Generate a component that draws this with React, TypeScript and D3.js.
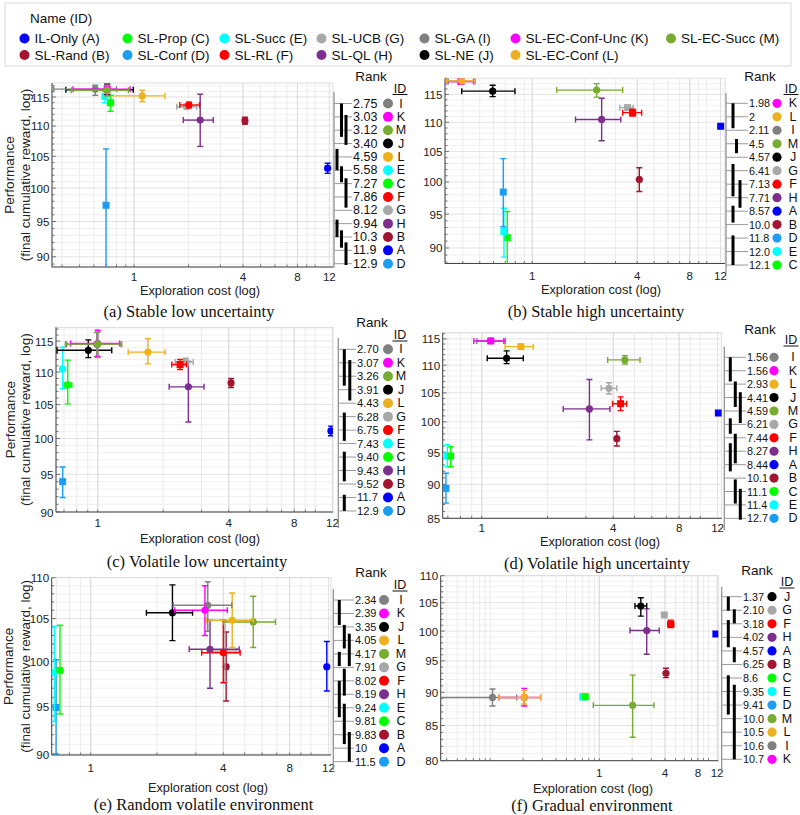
import React from 'react';
import * as d3 from 'd3';

// ---------- methods ----------
const methodIds = ['A', 'B', 'C', 'D', 'E', 'F', 'G', 'H', 'I', 'J', 'K', 'L', 'M'];
const methodNames = ['IL-Only', 'SL-Rand', 'SL-Prop', 'SL-Conf', 'SL-Succ', 'SL-RL', 'SL-UCB', 'SL-QL', 'SL-GA', 'SL-NE', 'SL-EC-Conf-Unc', 'SL-EC-Conf', 'SL-EC-Succ'];
const methodColors = ['#0000ff', '#a2142f', '#00ff00', '#1b9df2', '#00ffff', '#ff0000', '#a8a8a8', '#7e2f8e', '#808080', '#000000', '#ff00ff', '#edb120', '#77ac30'];

// point rows: [id, cost, costLo, costHi, perf, perfLo, perfHi]
type Pt = [string, number, number, number, number, number, number];

const pointsA: Pt[] = [
  ['D', 0.70, 0.69, 0.71, 97.4, 86, 106.2],
  ['A', 11.74, 11.5, 12.0, 103.1, 102.3, 103.9],
  ['B', 4.1, 4.0, 4.2, 110.9, 110.3, 111.5],
  ['H', 2.32, 1.87, 2.74, 111.0, 106.6, 115.5],
  ['G', 1.95, 1.72, 2.22, 113.3, 112.9, 113.8],
  ['F', 2.01, 1.79, 2.3, 113.6, 113.1, 114.1],
  ['L', 1.11, 0.74, 1.48, 115.2, 114.2, 116.2],
  ['C', 0.74, 0.72, 0.77, 114.0, 112.5, 115.3],
  ['E', 0.69, 0.67, 0.71, 115.1, 114.0, 116.0],
  ['J', 0.71, 0.42, 0.99, 116.3, 115.4, 117.2],
  ['I', 0.61, 0.36, 0.80, 116.4, 115.3, 117.1],
  ['K', 0.71, 0.46, 0.95, 116.4, 115.3, 117.4],
  ['M', 0.71, 0.45, 0.93, 116.2, 115.2, 117.1],
];
const pointsB: Pt[] = [
  ['C', 0.719, 0.71, 0.73, 91.5, 87, 95.4],
  ['E', 0.688, 0.675, 0.70, 92.4, 88.7, 95.9],
  ['D', 0.682, 0.67, 0.695, 98.4, 93.1, 103.8],
  ['B', 4.11, 4.03, 4.2, 100.4, 98.5, 102.3],
  ['A', 12.03, 11.85, 12.2, 109.3, 109.1, 109.5],
  ['H', 2.5, 1.77, 3.22, 110.5, 106.8, 114.3],
  ['G', 3.52, 3.18, 3.79, 112.6, 112.2, 113.0],
  ['F', 3.76, 3.3, 4.24, 111.7, 111.1, 112.3],
  ['M', 2.34, 1.38, 3.3, 115.8, 114.5, 117.0],
  ['J', 0.593, 0.394, 0.796, 115.6, 114.6, 116.7],
  ['I', 0.39, 0.33, 0.46, 117.4, 117.2, 117.6],
  ['K', 0.39, 0.323, 0.47, 117.4, 117.2, 117.6],
  ['L', 0.394, 0.323, 0.47, 117.5, 117.3, 117.7],
];
const pointsC: Pt[] = [
  ['D', 0.69, 0.675, 0.705, 94.0, 91.9, 96.0],
  ['A', 11.8, 11.6, 12.0, 101.1, 100.4, 101.8],
  ['B', 4.1, 4.03, 4.17, 108.3, 107.6, 109.0],
  ['H', 2.61, 2.13, 3.08, 107.7, 102.4, 111.7],
  ['C', 0.728, 0.70, 0.76, 108.0, 105.1, 111.9],
  ['E', 0.69, 0.675, 0.705, 110.5, 107.4, 114.0],
  ['G', 2.54, 2.27, 2.75, 111.6, 111.0, 112.2],
  ['F', 2.39, 2.19, 2.56, 111.2, 110.4, 112.0],
  ['L', 1.70, 1.38, 2.04, 113.2, 111.3, 115.4],
  ['J', 0.905, 0.65, 1.16, 113.5, 112.3, 115.2],
  ['I', 0.99, 0.72, 1.28, 114.5, 112.5, 116.4],
  ['K', 1.0, 0.75, 1.26, 114.6, 112.5, 116.8],
  ['M', 1.0, 0.71, 1.29, 114.5, 112.3, 116.5],
];
const pointsD: Pt[] = [
  ['D', 0.686, 0.675, 0.70, 89.4, 87.2, 91.7],
  ['E', 0.696, 0.68, 0.71, 94.4, 92.7, 96.2],
  ['C', 0.721, 0.71, 0.735, 94.4, 92.7, 95.9],
  ['B', 4.15, 4.08, 4.22, 97.2, 96.0, 98.4],
  ['H', 3.11, 2.36, 3.86, 102.2, 97.0, 107.4],
  ['A', 12.1, 11.9, 12.3, 101.5, 101.1, 101.9],
  ['F', 4.32, 3.97, 4.6, 103.1, 101.9, 104.3],
  ['G', 3.82, 3.52, 4.15, 105.8, 104.8, 106.8],
  ['M', 4.52, 3.77, 5.3, 111.0, 110.2, 111.8],
  ['J', 1.30, 1.06, 1.55, 111.3, 110.3, 112.7],
  ['L', 1.51, 1.28, 1.72, 113.5, 113.2, 113.8],
  ['I', 1.10, 0.95, 1.26, 114.6, 114.3, 114.9],
  ['K', 1.10, 0.92, 1.28, 114.6, 114.3, 114.9],
];
const pointsE: Pt[] = [
  ['D', 0.696, 0.685, 0.71, 94.9, 90.0, 100.2],
  ['E', 0.684, 0.675, 0.695, 98.7, 93.4, 104.1],
  ['C', 0.725, 0.705, 0.745, 99.0, 94.2, 104.2],
  ['A', 11.8, 11.6, 12.0, 99.4, 96.7, 102.3],
  ['B', 4.12, 4.05, 4.2, 99.4, 95.6, 103.4],
  ['G', 4.07, 3.4, 4.6, 101.2, 97.7, 104.7],
  ['F', 4.0, 3.19, 4.77, 101.0, 97.6, 104.8],
  ['H', 3.48, 2.8, 4.72, 101.4, 97.0, 104.8],
  ['M', 5.47, 4.0, 6.9, 104.6, 101.6, 107.7],
  ['L', 4.39, 3.36, 5.48, 104.8, 101.6, 108.1],
  ['J', 2.35, 1.79, 2.9, 105.7, 102.4, 109.1],
  ['I', 3.40, 2.37, 4.37, 106.6, 103.5, 109.5],
  ['K', 3.30, 2.41, 4.17, 106.0, 103.0, 109.0],
];
const pointsF: Pt[] = [
  ['M', 2.02, 0.88, 3.17, 88.0, 83.3, 92.7],
  ['I', 0.105, 0.02, 0.175, 89.2, 87.9, 90.5],
  ['K', 0.205, 0.12, 0.29, 89.2, 87.9, 90.6],
  ['L', 0.205, 0.12, 0.29, 89.2, 88.2, 90.3],
  ['D', 0.72, 0.72, 0.72, 89.3, 89.3, 89.3],
  ['E', 0.705, 0.705, 0.705, 89.3, 89.3, 89.3],
  ['C', 0.744, 0.744, 0.744, 89.3, 89.3, 89.3],
  ['B', 4.08, 4.0, 4.16, 93.0, 92.3, 93.8],
  ['H', 2.72, 1.91, 3.54, 100.1, 96.1, 103.9],
  ['A', 11.7, 11.7, 11.7, 99.5, 99.5, 99.5],
  ['F', 4.51, 4.25, 4.8, 101.2, 100.6, 101.9],
  ['G', 3.94, 3.94, 3.94, 102.8, 102.8, 102.8],
  ['J', 2.4, 2.12, 2.72, 104.4, 102.6, 105.9],
];

const squaresA = ['C', 'D', 'E', 'K'];
const squaresB = ['K', 'D', 'E', 'C', 'A', 'F', 'G'];
const squaresC = ['D', 'F'];
const squaresD = ['K', 'L', 'D', 'E', 'C', 'A', 'F'];
const squaresE = ['D'];
const squaresF = ['G', 'A', 'E', 'C', 'F', 'D'];

// rank tables
const rankIdsA = ['I', 'K', 'M', 'J', 'L', 'E', 'C', 'F', 'G', 'H', 'B', 'A', 'D'];
const rankValsA = ['2.75', '3.03', '3.12', '3.40', '4.59', '5.58', '7.27', '7.86', '8.12', '9.94', '10.3', '11.9', '12.9'];
const rankIdsB = ['K', 'L', 'I', 'M', 'J', 'G', 'F', 'H', 'A', 'B', 'D', 'E', 'C'];
const rankValsB = ['1.98', '2', '2.11', '4.5', '4.57', '6.41', '7.13', '7.71', '8.57', '10.0', '11.8', '12.0', '12.1'];
const rankIdsC = ['I', 'K', 'M', 'J', 'L', 'G', 'F', 'E', 'C', 'H', 'B', 'A', 'D'];
const rankValsC = ['2.70', '3.07', '3.26', '3.91', '4.43', '6.28', '6.75', '7.43', '9.40', '9.43', '9.52', '11.7', '12.9'];
const rankIdsD = ['I', 'K', 'L', 'J', 'M', 'G', 'F', 'H', 'A', 'B', 'C', 'E', 'D'];
const rankValsD = ['1.56', '1.56', '2.93', '4.41', '4.59', '6.21', '7.44', '8.27', '8.44', '10.1', '11.1', '11.4', '12.7'];
const rankIdsE = ['I', 'K', 'J', 'L', 'M', 'G', 'F', 'H', 'E', 'C', 'B', 'A', 'D'];
const rankValsE = ['2.34', '2.39', '3.35', '4.05', '4.17', '7.91', '8.02', '8.19', '9.24', '9.81', '9.83', '10', '11.5'];
const rankIdsF = ['J', 'G', 'F', 'H', 'A', 'B', 'C', 'E', 'D', 'M', 'L', 'I', 'K'];
const rankValsF = ['1.37', '2.10', '3.18', '4.02', '4.57', '6.25', '8.6', '9.35', '9.41', '10.0', '10.5', '10.6', '10.7'];

// groups of not-significantly-different ranks: [fromRow, toRow, column]
const cliquesA = [[0, 2.5, 1], [0.86, 3.1, 2], [3.4, 5.0, 0], [4.7, 5.9, 1], [5.6, 7.8, 2], [8.7, 10, 0], [9.5, 10.8, 1], [10.4, 12.1, 2]];
const cliquesB = [[0, 1.85, 0], [2.65, 3.7, 1], [4.5, 6.9, 0], [5.7, 7.75, 2], [7.6, 8.85, 0], [9.8, 12, 0]];
const cliquesC = [[0, 2.7, 0], [0.8, 3.8, 1], [4.7, 6.8, 0], [7.6, 9.8, 0], [10.8, 12, 0]];
const cliquesD = [[0, 1.8, 0], [1.8, 3.7, 1], [2.6, 4.9, 2], [4.55, 5.7, 0], [5.7, 7.9, 1], [6.4, 8.5, 0], [9.1, 10.9, 1], [9.8, 12.1, 2]];
const cliquesE = [[0, 1.85, 0], [1.85, 3.6, 1], [2.5, 4.9, 2], [3.85, 4.9, 0], [5.1, 7.1, 1], [6, 8.7, 0], [7.7, 10.7, 1], [9.8, 12, 2]];
const cliquesF = [[0, 1.03, 0], [0.93, 1.97, 1], [1.72, 3.73, 0], [3.73, 4.84, 1], [5.8, 8.7, 0], [6.5, 12, 1]];

const xTickVals = [1, 4, 8, 12];

const SANS = "'Liberation Sans', Arial, Helvetica, sans-serif";
const SERIF = "'Liberation Serif', 'Times New Roman', serif";

const colorOf = (id: string) => methodColors[methodIds.indexOf(id)];

interface Cfg {
  key: string; caption: string;
  left: number; right: number; top: number; bottom: number;
  xDom: [number, number]; yDom: [number, number]; yTicks: number[];
  yLabel: boolean; yl1: number; yl2: number;
  xTickY: number; xLabelX: number; xLabelY: number; capX: number; capY: number;
  rAxis: number; rTop: number; rBottom: number; row0: number; rowStep: number;
  labelX: number; labelFont: number; dotX: number; dotR: number; idX: number;
  headX: number; headY: number; idHeadX: number; idHeadY: number; barBase: number; barStep: number;
}

const layouts: Cfg[] = [
  { key: 'a', caption: '(a) Stable low uncertainty', left: 52, right: 333, top: 83, bottom: 267, xDom: [0.352, 12.57], yDom: [88.6, 117.5], yTicks: [90, 95, 100, 105, 110, 115], yLabel: true, yl1: 9.5, yl2: 25,
    xTickY: 276, xLabelX: 200, xLabelY: 290, capX: 189, capY: 311, rAxis: 334, rTop: 92, rBottom: 268, row0: 103.5, rowStep: 13.35,
    labelX: 353, labelFont: 12.5, dotX: 388, dotR: 5, idX: 401, headX: 371, headY: 76, idHeadX: 400, idHeadY: 88.5, barBase: 3, barStep: 4.5 },
  { key: 'b', caption: '(b) Stable high uncertainty', left: 445, right: 725, top: 78.3, bottom: 263.5, xDom: [0.316, 12.74], yDom: [87.8, 118], yTicks: [90, 95, 100, 105, 110, 115], yLabel: false, yl1: 0, yl2: 0,
    xTickY: 275, xLabelX: 601, xLabelY: 289, capX: 596, capY: 311, rAxis: 726, rTop: 93, rBottom: 273, row0: 103.3, rowStep: 13.48,
    labelX: 749, labelFont: 10.8, dotX: 777, dotR: 4.6, idX: 793, headX: 760, headY: 76, idHeadX: 791, idHeadY: 88.5, barBase: 7, barStep: 3.5 },
  { key: 'c', caption: '(c) Volatile low uncertainty', left: 56, right: 333, top: 327.3, bottom: 512, xDom: [0.643, 12.06], yDom: [90, 117.3], yTicks: [90, 95, 100, 105, 110, 115], yLabel: true, yl1: 10, yl2: 25,
    xTickY: 522, xLabelX: 200, xLabelY: 538, capX: 197, capY: 561, rAxis: 338.3, rTop: 338, rBottom: 528, row0: 349.3, rowStep: 13.47,
    labelX: 357, labelFont: 11.2, dotX: 388, dotR: 5, idX: 401, headX: 372, headY: 322, idHeadX: 400, idHeadY: 335, barBase: 6, barStep: 5.5 },
  { key: 'd', caption: '(d) Volatile high uncertainty', left: 442.7, right: 721.7, top: 332.7, bottom: 518.3, xDom: [0.663, 12.53], yDom: [85, 116.2], yTicks: [85, 90, 95, 100, 105, 110, 115], yLabel: false, yl1: 0, yl2: 0,
    xTickY: 527, xLabelX: 600, xLabelY: 541, capX: 597, capY: 563, rAxis: 724.3, rTop: 346.7, rBottom: 530, row0: 357.3, rowStep: 13.42,
    labelX: 747, labelFont: 10.8, dotX: 774, dotR: 4.6, idX: 793, headX: 760, headY: 329, idHeadX: 791, idHeadY: 340, barBase: 6, barStep: 5 },
  { key: 'e', caption: '(e) Random volatile environment', left: 51.7, right: 331, top: 577.7, bottom: 755, xDom: [0.665, 12.33], yDom: [89.9, 110], yTicks: [90, 95, 100, 105, 110], yLabel: true, yl1: 8.5, yl2: 25,
    xTickY: 767, xLabelX: 208, xLabelY: 787, capX: 203.5, capY: 804, rAxis: 333.3, rTop: 589, rBottom: 770, row0: 600, rowStep: 13.47,
    labelX: 355, labelFont: 11, dotX: 384, dotR: 5, idX: 401, headX: 371, headY: 572, idHeadX: 400, idHeadY: 585, barBase: 6, barStep: 5 },
  { key: 'f', caption: '(f) Gradual environment', left: 440.7, right: 718.3, top: 575.7, bottom: 760.7, xDom: [0.0352, 12.31], yDom: [80, 110], yTicks: [80, 85, 90, 95, 100, 105, 110], yLabel: false, yl1: 0, yl2: 0,
    xTickY: 772, xLabelX: 593, xLabelY: 788, capX: 592, capY: 805, rAxis: 721.7, rTop: 586.7, rBottom: 773, row0: 596.7, rowStep: 13.55,
    labelX: 743, labelFont: 10.8, dotX: 772, dotR: 4.6, idX: 787, headX: 757, headY: 570, idHeadX: 787, idHeadY: 582, barBase: 6.6, barStep: 6 },
];

const panelPoints = [pointsA, pointsB, pointsC, pointsD, pointsE, pointsF];
const panelSquares = [squaresA, squaresB, squaresC, squaresD, squaresE, squaresF];
const panelRankIds = [rankIdsA, rankIdsB, rankIdsC, rankIdsD, rankIdsE, rankIdsF];
const panelRankVals = [rankValsA, rankValsB, rankValsC, rankValsD, rankValsE, rankValsF];
const panelCliques = [cliquesA, cliquesB, cliquesC, cliquesD, cliquesE, cliquesF];

function Panel({ cfg, pts, squares, rankIds, rankVals, cliques }: any) {
  const x = d3.scaleLog().domain(cfg.xDom).range([cfg.left, cfg.right]);
  const y = d3.scaleLog().domain(cfg.yDom).range([cfg.bottom, cfg.top]);
  const xGrid: number[] = [];
  for (let k = -3; k <= 2; k++) for (let m = 1; m <= 9; m++) {
    const v = m * Math.pow(10, k);
    if (v > cfg.xDom[0] && v < cfg.xDom[1]) xGrid.push(v);
  }
  const yGrid = d3.range(Math.ceil(cfg.yDom[0]), Math.floor(cfg.yDom[1]) + 1);
  const clipId = 'clip-' + cfg.key;
  const cap = 3;
  const midY = (cfg.top + cfg.bottom) / 2;
  const rowY = (i: number) => cfg.row0 + i * cfg.rowStep;
  return (
    <g>
      <defs>
        <clipPath id={clipId}>
          <rect x={cfg.left} y={cfg.top} width={cfg.right - cfg.left} height={cfg.bottom - cfg.top} />
        </clipPath>
      </defs>
      <rect x={cfg.left} y={cfg.top} width={cfg.right - cfg.left} height={cfg.bottom - cfg.top} fill="#fff" stroke="#d4d4d4" strokeWidth={0.8} />
      {xGrid.map((v, i) => (
        <line key={'xg' + i} x1={x(v)} x2={x(v)} y1={cfg.top} y2={cfg.bottom} stroke="#e6e6e6" strokeWidth={0.8} />
      ))}
      {yGrid.map((v, i) => (
        <line key={'yg' + i} x1={cfg.left} x2={cfg.right} y1={y(v)} y2={y(v)} stroke={v % 5 === 0 ? '#dcdcdc' : '#ececec'} strokeWidth={0.8} />
      ))}
      {xTickVals.map((v) => (
        <line key={'xm' + v} x1={x(v)} x2={x(v)} y1={cfg.top} y2={cfg.bottom} stroke="#d6d6d6" strokeWidth={0.8} />
      ))}
      {/* axes */}
      <line x1={cfg.left} x2={cfg.left} y1={cfg.top} y2={cfg.bottom} stroke="#444" strokeWidth={1} />
      <line x1={cfg.left} x2={cfg.right} y1={cfg.bottom} y2={cfg.bottom} stroke="#444" strokeWidth={1} />
      {yGrid.map((v, i) => (
        <line key={'yt' + i} x1={cfg.left} x2={cfg.left + (v % 5 === 0 ? 4 : 2.5)} y1={y(v)} y2={y(v)} stroke="#555" strokeWidth={0.8} />
      ))}
      {xGrid.map((v, i) => (
        <line key={'xt' + i} x1={x(v)} x2={x(v)} y1={cfg.bottom} y2={cfg.bottom - 2.5} stroke="#555" strokeWidth={0.8} />
      ))}
      {cfg.yTicks.map((v: number) => (
        <text key={'yl' + v} x={cfg.left - 2.5} y={y(v)} textAnchor="end" dominantBaseline="central" fontSize={11.6} fontFamily={SANS} fill="#222">{v}</text>
      ))}
      {xTickVals.map((v) => (
        <text key={'xl' + v} x={x(v)} y={cfg.xTickY} textAnchor="middle" dominantBaseline="central" fontSize={11.6} fontFamily={SANS} fill="#222">{v}</text>
      ))}
      <text x={cfg.xLabelX} y={cfg.xLabelY} textAnchor="middle" dominantBaseline="central" fontSize={12.8} fontFamily={SANS} fill="#222">Exploration cost (log)</text>
      {cfg.yLabel && (
        <g>
          <text transform={`translate(${cfg.yl1},${midY}) rotate(-90)`} textAnchor="middle" dominantBaseline="central" fontSize={13.5} fontFamily={SANS} fill="#222">Performance</text>
          <text transform={`translate(${cfg.yl2},${midY}) rotate(-90)`} textAnchor="middle" dominantBaseline="central" fontSize={13.5} fontFamily={SANS} fill="#222">(final cumulative reward, log)</text>
        </g>
      )}
      <text x={cfg.capX} y={cfg.capY} textAnchor="middle" dominantBaseline="central" fontSize={16.5} fontFamily={SERIF} fill="#111">{cfg.caption}</text>
      {/* data */}
      <g clipPath={`url(#${clipId})`}>
        {pts.map((p: Pt, i: number) => {
          const [id, cx, xlo, xhi, cy, ylo, yhi] = p;
          const c = colorOf(id);
          const px = x(cx), py = y(cy);
          const hasX = xhi - xlo > 1e-6;
          const hasY = yhi - ylo > 1e-6;
          return (
            <g key={'p' + i} stroke={c} strokeWidth={1.4} fill="none">
              {hasX && (
                <g>
                  <line x1={x(xlo)} x2={x(xhi)} y1={py} y2={py} />
                  <line x1={x(xlo)} x2={x(xlo)} y1={py - cap} y2={py + cap} />
                  <line x1={x(xhi)} x2={x(xhi)} y1={py - cap} y2={py + cap} />
                </g>
              )}
              {hasY && (
                <g>
                  <line x1={px} x2={px} y1={y(ylo)} y2={y(yhi)} />
                  <line x1={px - cap} x2={px + cap} y1={y(ylo)} y2={y(ylo)} />
                  <line x1={px - cap} x2={px + cap} y1={y(yhi)} y2={y(yhi)} />
                </g>
              )}
              {squares.includes(id)
                ? <rect x={px - 3.5} y={py - 3.5} width={7} height={7} fill={c} stroke="none" />
                : <circle cx={px} cy={py} r={3.6} fill={c} stroke="none" />}
            </g>
          );
        })}
      </g>
      {/* rank column */}
      <line x1={cfg.rAxis} x2={cfg.rAxis} y1={cfg.rTop} y2={cfg.rBottom} stroke="#8a8a8a" strokeWidth={1.2} />
      {rankIds.map((id: string, i: number) => (
        <g key={'r' + i}>
          <line x1={cfg.rAxis} x2={cfg.labelX - 1} y1={rowY(i)} y2={rowY(i)} stroke="#9a9a9a" strokeWidth={1} />
          <text x={cfg.labelX} y={rowY(i)} dominantBaseline="central" fontSize={cfg.labelFont} fontFamily={SANS} fill="#111">{rankVals[i]}</text>
          <circle cx={cfg.dotX} cy={rowY(i)} r={cfg.dotR} fill={colorOf(id)} />
          <text x={cfg.idX} y={rowY(i)} textAnchor="middle" dominantBaseline="central" fontSize={12.5} fontFamily={SANS} fill="#111">{id}</text>
        </g>
      ))}
      {cliques.map((q: number[], i: number) => (
        <line key={'q' + i} x1={cfg.rAxis + cfg.barBase + q[2] * cfg.barStep} x2={cfg.rAxis + cfg.barBase + q[2] * cfg.barStep}
          y1={rowY(q[0])} y2={rowY(q[1])} stroke="#000" strokeWidth={3} />
      ))}
      <text x={cfg.headX} y={cfg.headY} textAnchor="middle" dominantBaseline="central" fontSize={13.5} fontFamily={SANS} fill="#111">Rank</text>
      <text x={cfg.idHeadX} y={cfg.idHeadY} textAnchor="middle" dominantBaseline="central" fontSize={12.5} fontFamily={SANS} fill="#111">ID</text>
      <line x1={cfg.idHeadX - 7.5} x2={cfg.idHeadX + 7.5} y1={cfg.idHeadY + 6} y2={cfg.idHeadY + 6} stroke="#111" strokeWidth={1} />
    </g>
  );
}

const legendColX = [24.5, 127.5, 224.5, 321.5, 424.5, 515.5, 671];
const legendRowY = [38.5, 55];

export default function App() {
  return (
    <div style={{ position: 'absolute', left: 0, top: 0, width: 800, height: 815, background: '#fff' }}>
      <svg width={800} height={815} viewBox="0 0 800 815" style={{ display: 'block' }}>
        <rect x={0} y={0} width={800} height={815} fill="#fff" />
        {/* legend */}
        <rect x={5} y={3} width={786} height={63} fill="#fff" stroke="#d8d8d8" strokeWidth={1} />
        <text x={30} y={18} dominantBaseline="central" fontSize={13.5} fontFamily={SANS} fill="#111">Name (ID)</text>
        {methodIds.map((id, i) => {
          const col = Math.floor(i / 2), row = i % 2;
          const cx = legendColX[col], cy = legendRowY[row];
          return (
            <g key={'lg' + id}>
              <circle cx={cx} cy={cy} r={5} fill={methodColors[i]} />
              <text x={cx + 10} y={cy} dominantBaseline="central" fontSize={13.5} fontFamily={SANS} fill="#111">{`${methodNames[i]} (${id})`}</text>
            </g>
          );
        })}
        {layouts.map((cfg, i) => (
          <Panel key={cfg.key} cfg={cfg} pts={panelPoints[i]} squares={panelSquares[i]} rankIds={panelRankIds[i]}
            rankVals={panelRankVals[i]} cliques={panelCliques[i]} />
        ))}
      </svg>
    </div>
  );
}
